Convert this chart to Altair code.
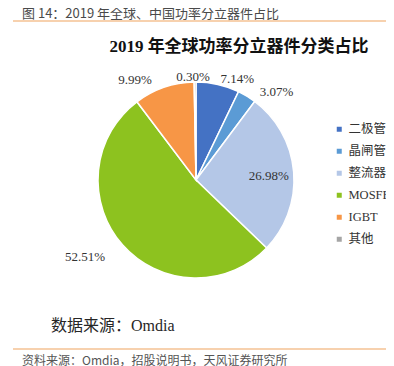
import altair as alt
import pandas as pd

# ---- data ----
categories = ["二极管", "晶闸管", "整流器", "MOSFET", "IGBT", "其他"]
shares = [7.14, 3.07, 26.98, 52.51, 9.99, 0.30]
colors = ["#4472C4", "#5B9BD5", "#B4C7E7", "#8DC21F", "#F79646", "#A5A5A5"]

header_text = ["图 14：2019 年全球、中国功率分立器件占比"]
title_text = ["2019 年全球功率分立器件分类占比"]
source_text = ["数据来源：Omdia"]
footer_text = ["资料来源：Omdia，招股说明书，天风证券研究所"]

df = pd.DataFrame({"cat": categories, "value": shares, "idx": list(range(len(categories)))})
total = float(sum(shares))

SERIF = "'Liberation Serif', 'Noto Sans CJK SC', serif"
SANS = "'Noto Sans CJK SC', 'Noto Sans', sans-serif"

theta_scale = alt.Scale(domain=[0, total])

arcs = alt.Chart(df).mark_arc(outerRadius=98, stroke="white", strokeWidth=1.5).encode(
    theta=alt.Theta("value:Q", stack=True, scale=theta_scale),
    order=alt.Order("idx:Q"),
    color=alt.Color(
        "cat:N",
        scale=alt.Scale(domain=categories, range=colors),
        sort=categories,
        legend=alt.Legend(
            orient="none", legendX=325, legendY=115, title=None,
            symbolType="square", symbolSize=25, symbolStrokeWidth=0,
            labelFont=SERIF, labelFontSize=12.5, labelColor="#333333",
            rowPadding=9, padding=0, labelOffset=3, labelLimit=200,
        ),
    ),
)

base = (
    alt.Chart(df)
    .transform_window(cum="sum(value)", sort=[alt.SortField("idx")], frame=[None, 0])
    .transform_calculate(mid="datum.cum - datum.value / 2",
                         label="format(datum.value, '.2f') + '%'")
)

# label layout: (category, radius, dx, dy)
label_layout = [
    ("二极管", 105, 18, 1),
    ("晶闸管", 115, 21, 10),
    ("整流器", 73, 0, 2),
    ("MOSFET", 135, -10, -13),
    ("IGBT", 110, -25, 4),
    ("其他", 103, -2, 0),
]

label_layers = []
for c, r, dx, dy in label_layout:
    label_layers.append(
        base.transform_filter(alt.datum.cat == c)
        .mark_text(radius=r, dx=dx, dy=dy, font=SERIF, fontSize=13, color="#333333", baseline="middle")
        .encode(theta=alt.Theta("mid:Q", scale=theta_scale), text="label:N")
    )


def annot(txt, x, y, size, font, color, align="left", weight="normal"):
    return alt.Chart(pd.DataFrame({"t": txt})).mark_text(
        align=align, baseline="middle", fontSize=size, font=font, color=color, fontWeight=weight
    ).encode(x=alt.value(x), y=alt.value(y), text="t:N")


header = annot(header_text, 14, 6, 13, SANS, "#4a4a4a")
title = annot(title_text, 231, 39, 17, SERIF, "#111111", align="center", weight="bold")
source = annot(source_text, 43, 318, 16, SERIF, "#262626")
footer = annot(footer_text, 14, 353, 12, SANS, "#555555")

rule_top = alt.Chart(pd.DataFrame({"a": [0]})).mark_rule(color="#F0A35E", strokeWidth=1.2).encode(
    x=alt.value(5), x2=alt.value(386), y=alt.value(13))
rule_bottom = alt.Chart(pd.DataFrame({"a": [0]})).mark_rule(color="#F0A35E", strokeWidth=1.2).encode(
    x=alt.value(5), x2=alt.value(386), y=alt.value(341))

chart = alt.layer(arcs, *label_layers, header, title, source, footer, rule_top, rule_bottom).properties(
    width=376, height=344,
    autosize=alt.AutoSizeParams(type="none"),
    padding={"left": 0, "top": 0, "right": 2, "bottom": 14},
).configure_view(stroke=None)

chart.save("out.html", embed_options={"renderer": "svg", "actions": False})
